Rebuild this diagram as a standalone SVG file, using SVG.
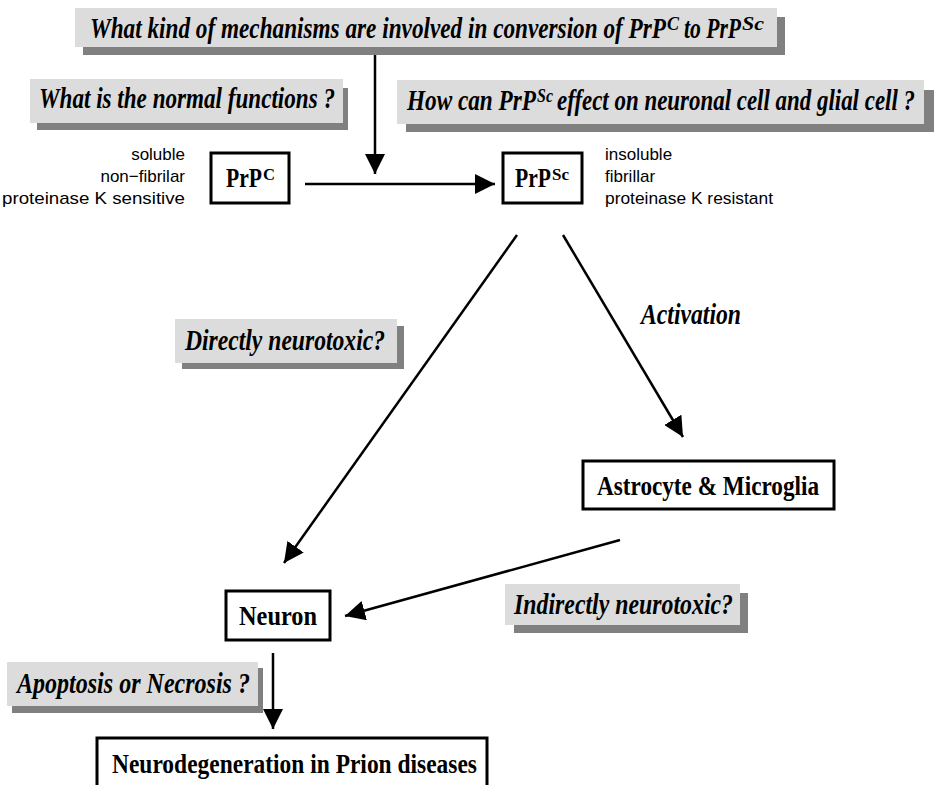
<svg xmlns="http://www.w3.org/2000/svg" width="934" height="785" viewBox="0 0 934 785">
<style>
.q{font-family:"Liberation Serif","Times New Roman",serif;font-weight:bold;font-style:italic;font-size:29px;fill:#000}
.n{font-family:"Liberation Serif","Times New Roman",serif;font-weight:bold;font-size:27px;fill:#000}
.s{font-family:"Liberation Sans",Arial,sans-serif;font-size:17px;fill:#000}
.sh{fill:#808080}
.bg{fill:#dcdcdc}
.box{fill:#fff;stroke:#000;stroke-width:3}
.ln{stroke:#000;stroke-width:2.5;fill:none}
</style>
<defs>
<marker id="a" viewBox="0 0 20 20" refX="20" refY="10" markerWidth="20" markerHeight="20" orient="auto" markerUnits="userSpaceOnUse">
<path d="M0,0 L20,10 L0,20 z" fill="#000"/>
</marker>
</defs>
<rect width="934" height="785" fill="#fff"/>

<g id="q-top">
<rect class="sh" x="83" y="17" width="702" height="38"/>
<rect class="bg" x="75" y="8" width="702" height="39"/>
<text class="q" style="font-size:23px" transform="translate(0,38) scale(1,1.26)" x="90" y="0" textLength="576" lengthAdjust="spacingAndGlyphs">What kind of mechanisms are involved in conversion of PrP</text>
<text class="q" style="font-size:15px" transform="translate(0,30) scale(1,1.26)" x="667" y="0" textLength="12" lengthAdjust="spacingAndGlyphs">C</text>
<text class="q" style="font-size:21px" transform="translate(0,38) scale(1,1.38)" x="684" y="0" textLength="57" lengthAdjust="spacingAndGlyphs">to PrP</text>
<text class="q" style="font-size:15px" transform="translate(0,30) scale(1,1.26)" x="742" y="0" textLength="22" lengthAdjust="spacingAndGlyphs">Sc</text>
</g>

<g id="q-normal">
<rect class="sh" x="37" y="88" width="311" height="42"/>
<rect class="bg" x="30" y="79" width="313" height="44"/>
<text class="q" x="39" y="108" textLength="296" lengthAdjust="spacingAndGlyphs">What is the normal functions ?</text>
</g>

<g id="q-effect">
<rect class="sh" x="406" y="90" width="528" height="42"/>
<rect class="bg" x="397" y="80" width="527" height="44"/>
<text class="q" style="font-size:23px" transform="translate(0,110) scale(1,1.26)" x="407" y="0" textLength="129" lengthAdjust="spacingAndGlyphs">How can PrP</text>
<text class="q" style="font-size:14px" transform="translate(0,102) scale(1,1.36)" x="537" y="0" textLength="16" lengthAdjust="spacingAndGlyphs">Sc</text>
<text class="q" style="font-size:21px" transform="translate(0,110) scale(1,1.38)" x="557" y="0" textLength="358" lengthAdjust="spacingAndGlyphs">effect on neuronal cell and glial cell ?</text>
</g>

<g id="prpc-props">
<text class="s" x="185" y="160" text-anchor="end">soluble</text>
<text class="s" x="185" y="182" text-anchor="end">non−fibrilar</text>
<text class="s" x="185" y="204" text-anchor="end" textLength="183" lengthAdjust="spacingAndGlyphs">proteinase K sensitive</text>
</g>

<g id="prpc">
<rect class="box" x="211" y="153" width="78" height="50"/>
<text class="n" style="font-size:21px" transform="translate(0,187) scale(1,1.28)" x="226" y="0" textLength="36" lengthAdjust="spacingAndGlyphs">PrP</text>
<text class="n" style="font-size:14px" transform="translate(0,180) scale(1,1.2)" x="263" y="0" textLength="12" lengthAdjust="spacingAndGlyphs">C</text>
</g>

<g id="prpsc">
<rect class="box" x="503" y="153" width="79" height="50"/>
<text class="n" style="font-size:21px" transform="translate(0,187) scale(1,1.28)" x="515" y="0" textLength="36" lengthAdjust="spacingAndGlyphs">PrP</text>
<text class="n" style="font-size:14px" transform="translate(0,180) scale(1,1.2)" x="552" y="0" textLength="17" lengthAdjust="spacingAndGlyphs">Sc</text>
</g>

<g id="prpsc-props">
<text class="s" x="605" y="160">insoluble</text>
<text class="s" x="605" y="182">fibrillar</text>
<text class="s" x="605" y="204" textLength="168" lengthAdjust="spacingAndGlyphs">proteinase K resistant</text>
</g>

<g id="q-direct">
<rect class="sh" x="182" y="326" width="222" height="43"/>
<rect class="bg" x="175" y="319" width="222" height="44"/>
<text class="q" x="185" y="350" textLength="200" lengthAdjust="spacingAndGlyphs">Directly neurotoxic?</text>
</g>

<g id="activation">
<text class="q" x="641" y="324" textLength="100" lengthAdjust="spacingAndGlyphs">Activation</text>
</g>

<g id="astro">
<rect class="box" x="583" y="461" width="251" height="48"/>
<text class="n" x="708" y="495" text-anchor="middle" textLength="222" lengthAdjust="spacingAndGlyphs">Astrocyte &amp; Microglia</text>
</g>

<g id="neuron">
<rect class="box" x="226" y="591" width="104" height="49"/>
<text class="n" x="278" y="625" text-anchor="middle" textLength="78" lengthAdjust="spacingAndGlyphs">Neuron</text>
</g>

<g id="q-indirect">
<rect class="sh" x="514" y="593" width="234" height="40"/>
<rect class="bg" x="505" y="584" width="235" height="41"/>
<text class="q" x="514" y="614" textLength="219" lengthAdjust="spacingAndGlyphs">Indirectly neurotoxic?</text>
</g>

<g id="q-apoptosis">
<rect class="sh" x="12" y="668" width="251" height="45"/>
<rect class="bg" x="7" y="662" width="251" height="44"/>
<text class="q" x="17" y="693" textLength="233" lengthAdjust="spacingAndGlyphs">Apoptosis or Necrosis ?</text>
</g>

<g id="neurodeg">
<rect class="box" x="97" y="738" width="390" height="60"/>
<text class="n" x="112" y="773" textLength="365" lengthAdjust="spacingAndGlyphs">Neurodegeneration in Prion diseases</text>
</g>

<g id="connectors">
<line class="ln" x1="375" y1="55" x2="375" y2="174" marker-end="url(#a)"/>
<line class="ln" x1="305" y1="184" x2="495" y2="184" marker-end="url(#a)"/>
<line class="ln" x1="517" y1="235" x2="284" y2="563" marker-end="url(#a)"/>
<line class="ln" x1="563" y1="235" x2="683" y2="437" marker-end="url(#a)"/>
<line class="ln" x1="620" y1="540" x2="345" y2="616" marker-end="url(#a)"/>
<line class="ln" x1="273" y1="653" x2="273" y2="729" marker-end="url(#a)"/>
</g>
</svg>
